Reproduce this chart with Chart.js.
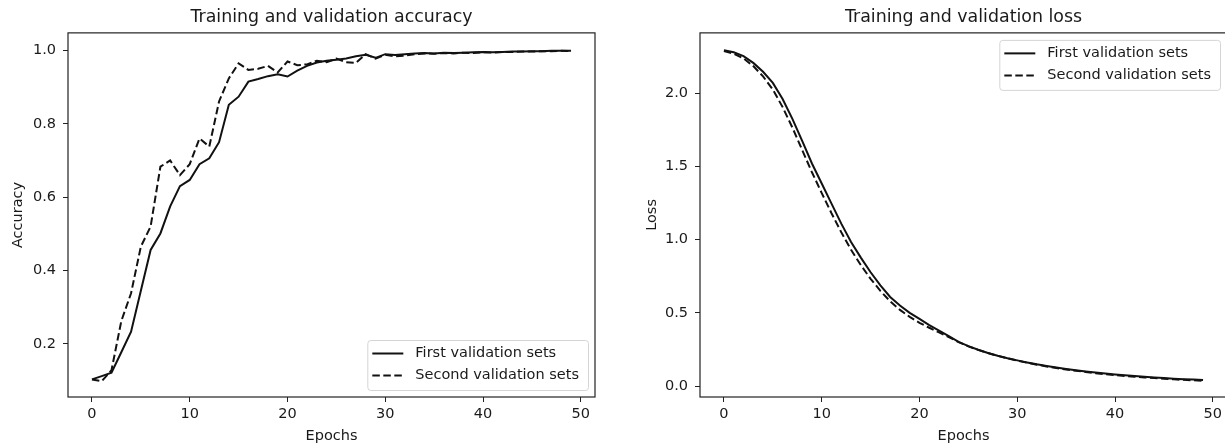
<!DOCTYPE html>
<html>
<head>
<meta charset="utf-8">
<script src="https://cdn.jsdelivr.net/npm/chart.js@4.4.1/dist/chart.umd.min.js"></script>
<style>
  body { margin: 0; background: #fff; overflow: hidden; width: 1225px; height: 445px; position: relative; }
  #accChart { position: absolute; left: 0; top: 0; }
  #lossChart { position: absolute; left: 612px; top: 0; }
</style>
</head>
<body>
<canvas id="accChart" width="612" height="445"></canvas>
<canvas id="lossChart" width="620" height="445"></canvas>
<script>
var epochs = [0, 1, 2, 3, 4, 5, 6, 7, 8, 9, 10, 11, 12, 13, 14, 15, 16, 17, 18, 19,
  20, 21, 22, 23, 24, 25, 26, 27, 28, 29, 30, 31, 32, 33, 34, 35, 36, 37, 38, 39,
  40, 41, 42, 43, 44, 45, 46, 47, 48, 49];

var accFirst = [0.103, 0.112, 0.121, 0.177, 0.233, 0.345, 0.456, 0.501, 0.575, 0.630,
  0.647, 0.690, 0.706, 0.750, 0.852, 0.874, 0.915, 0.922, 0.930, 0.935,
  0.929, 0.945, 0.958, 0.967, 0.972, 0.975, 0.978, 0.984, 0.988, 0.980,
  0.990, 0.988, 0.990, 0.992, 0.993, 0.992, 0.994, 0.993, 0.994, 0.995,
  0.996, 0.995, 0.996, 0.997, 0.997, 0.998, 0.998, 0.999, 0.999, 0.999];
var accSecond = [0.103, 0.098, 0.128, 0.262, 0.338, 0.465, 0.520, 0.683, 0.700, 0.660,
  0.690, 0.760, 0.738, 0.861, 0.924, 0.965, 0.947, 0.950, 0.958, 0.940,
  0.970, 0.960, 0.962, 0.972, 0.968, 0.978, 0.968, 0.966, 0.990, 0.978,
  0.988, 0.984, 0.986, 0.990, 0.992, 0.991, 0.993, 0.992, 0.994, 0.993,
  0.995, 0.994, 0.996, 0.996, 0.997, 0.997, 0.998, 0.998, 0.999, 0.998];

var lossFirst = [2.294, 2.280, 2.253, 2.207, 2.146, 2.070, 1.960, 1.825, 1.674, 1.520,
  1.383, 1.246, 1.109, 0.984, 0.877, 0.777, 0.688, 0.608, 0.550, 0.500,
  0.458, 0.416, 0.378, 0.340, 0.302, 0.272, 0.248, 0.226, 0.207, 0.190,
  0.175, 0.161, 0.148, 0.137, 0.126, 0.116, 0.107, 0.099, 0.092, 0.085,
  0.079, 0.073, 0.068, 0.063, 0.058, 0.054, 0.050, 0.047, 0.044, 0.041];
var lossSecond = [2.288, 2.270, 2.238, 2.185, 2.115, 2.025, 1.905, 1.765, 1.612, 1.460,
  1.318, 1.180, 1.050, 0.930, 0.826, 0.732, 0.650, 0.578, 0.520, 0.472,
  0.432, 0.398, 0.366, 0.334, 0.300, 0.271, 0.247, 0.225, 0.206, 0.189,
  0.173, 0.159, 0.146, 0.134, 0.123, 0.113, 0.104, 0.096, 0.088, 0.081,
  0.075, 0.069, 0.064, 0.059, 0.054, 0.050, 0.046, 0.042, 0.039, 0.036];

var seriesNames = ["First validation sets", "Second validation sets"];
var epochTicks = [0, 10, 20, 30, 40, 50];
var accTicks = [0.2, 0.4, 0.6, 0.8, 1.0];
var lossTicks = [0.0, 0.5, 1.0, 1.5, 2.0];

var ink = "#1a1a1a";
Chart.defaults.font.family = "'DejaVu Sans', sans-serif";
Chart.defaults.color = ink;

function points(arr) {
  return epochs.map(function (e, i) { return { x: e, y: arr[i] }; });
}

// axes frame all round, like a matplotlib box
var frame = {
  id: "frame",
  afterDatasetsDraw: function (chart) {
    var a = chart.chartArea, ctx = chart.ctx;
    ctx.save();
    ctx.strokeStyle = "#222";
    ctx.lineWidth = 1.2;
    ctx.strokeRect(a.left, a.top, a.right - a.left, a.bottom - a.top);
    ctx.restore();
  }
};

// legend box drawn inside the plot area
var boxLegend = {
  id: "boxLegend",
  afterDraw: function (chart, args, opts) {
    var a = chart.chartArea, ctx = chart.ctx;
    ctx.save();
    ctx.font = "14.5px 'DejaVu Sans'";
    var tw = 0;
    chart.data.datasets.forEach(function (ds) {
      tw = Math.max(tw, ctx.measureText(ds.label).width);
    });
    var w = 48 + tw + 9, h = 50;
    var x = a.right - 7 - w;
    var y = opts.corner == "upper" ? a.top + 7 : a.bottom - 7 - h;
    ctx.beginPath();
    ctx.roundRect(x + 0.5, y + 0.5, w, h, 3);
    ctx.fillStyle = "rgba(255,255,255,0.8)";
    ctx.fill();
    ctx.strokeStyle = "#d4d4d4";
    ctx.lineWidth = 1;
    ctx.stroke();
    chart.data.datasets.forEach(function (ds, i) {
      var ry = y + 13.5 + i * 22;
      ctx.beginPath();
      ctx.setLineDash(ds.borderDash || []);
      ctx.strokeStyle = ds.borderColor;
      ctx.lineWidth = ds.borderWidth;
      ctx.moveTo(x + 5, ry);
      ctx.lineTo(x + 36, ry);
      ctx.stroke();
      ctx.setLineDash([]);
      ctx.fillStyle = ink;
      ctx.textBaseline = "middle";
      ctx.fillText(ds.label, x + 48, ry);
    });
    ctx.restore();
  }
};

function makeChart(id, title, yLabel, first, second, yMin, yMax, yTicks, yWidth, yTitlePad, padRight, corner) {
  return new Chart(id, {
    type: "line",
    data: {
      datasets: [
        { label: seriesNames[0], data: points(first), borderColor: "#111", borderWidth: 2,
          pointRadius: 0, tension: 0, fill: false },
        { label: seriesNames[1], data: points(second), borderColor: "#111", borderWidth: 2,
          borderDash: [7.5, 3.5], pointRadius: 0, tension: 0, fill: false }
      ]
    },
    options: {
      responsive: false,
      animation: false,
      devicePixelRatio: 1,
      layout: { padding: { right: padRight, left: 0, top: 0, bottom: 0 } },
      plugins: {
        legend: { display: false },
        tooltip: { enabled: false },
        title: { display: true, text: title, fullSize: false, color: ink,
          font: { size: 17.4, weight: "normal" }, padding: { top: 7, bottom: 5 } },
        boxLegend: { corner: corner }
      },
      scales: {
        x: {
          type: "linear", min: -2.45, max: 51.45,
          afterBuildTicks: function (s) { s.ticks = epochTicks.map(function (v) { return { value: v }; }); },
          afterFit: function (s) { s.height = 48; },
          ticks: { font: { size: 14.5 }, color: ink, padding: 4, maxRotation: 0 },
          grid: { display: true, drawOnChartArea: false, drawTicks: true, tickLength: 5, color: "#222" },
          border: { display: false },
          title: { display: true, text: "Epochs", color: ink, font: { size: 14.5 }, padding: { top: 0, bottom: 0 } }
        },
        y: {
          type: "linear", min: yMin, max: yMax,
          afterBuildTicks: function (s) { s.ticks = yTicks.map(function (v) { return { value: v }; }); },
          afterFit: function (s) { s.width = yWidth; },
          ticks: { font: { size: 14.5 }, color: ink, padding: 7,
            callback: function (v) { return v.toFixed(1); } },
          grid: { display: true, drawOnChartArea: false, drawTicks: true, tickLength: 5, color: "#222" },
          border: { display: false },
          title: { display: true, text: yLabel, color: ink, font: { size: 14.5 }, padding: { top: yTitlePad, bottom: 0 } }
        }
      }
    },
    plugins: [frame, boxLegend]
  });
}

makeChart("accChart", "Training and validation accuracy", "Accuracy", accFirst, accSecond,
  0.055, 1.048, accTicks, 68, 10, 17, "lower");
makeChart("lossChart", "Training and validation loss", "Loss", lossFirst, lossSecond,
  -0.075, 2.412, lossTicks, 88, 32, 5, "upper");
</script>
</body>
</html>
